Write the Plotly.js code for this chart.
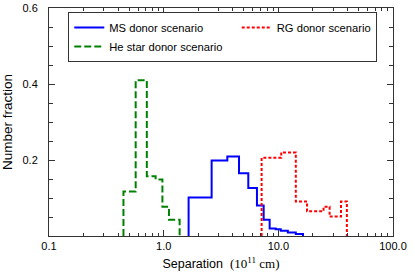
<!DOCTYPE html>
<html><head><meta charset="utf-8">
<script src="https://cdn.plot.ly/plotly-3.0.1.min.js"></script>
<style>html,body{margin:0;padding:0;background:#fff}</style>
</head><body><div id="chart" style="width:415px;height:279px"></div>
<script>
const msEdges = [1.65, 2.62, 3.59, 4.54, 5.47, 6.51, 7.45, 8.40, 9.48, 10.5, 12.1, 14.2, 16.4];
const msValues = [0.101, 0.199, 0.209, 0.165, 0.126, 0.080, 0.043, 0.020, 0.0175, 0.014, 0.0095, 0.005];
const rgEdges = [7.15, 10.6, 14.2, 17.8, 24.8, 28.0, 35.2, 39.6];
const rgValues = [0.206, 0.220, 0.091, 0.065, 0.077, 0.051, 0.091];
const heEdges = [0.446, 0.570, 0.713, 0.851, 0.975, 1.112, 1.378];
const heValues = [0.117, 0.410, 0.157, 0.149, 0.077, 0.043];
const xTickVals = [0.1, 1, 10, 100];
const xTickText = ['0.1', '1.0', '10.0', '100.0'];
const yTickVals = [0.2, 0.4, 0.6];
const yTickText = ['0.2', '0.4', '0.6'];

function steps(edges, vals) {
  const x = [edges[0]], y = [0];
  for (let i = 0; i < vals.length; i++) { x.push(edges[i]); y.push(vals[i]); }
  x.push(edges[edges.length - 1]); y.push(0);
  return {x, y};
}
const xMinor = [];
for (let d = 0.1; d < 100; d *= 10) for (let k = 2; k <= 9; k++) xMinor.push(+(d * k).toPrecision(3));
const yMinor = [];
for (let k = 1; k < 12; k++) if (k % 4 !== 0) yMinor.push(+(k * 0.05).toFixed(2));

const font = 'Liberation Sans, Arial, sans-serif';
const ms = steps(msEdges, msValues), rg = steps(rgEdges, rgValues), he = steps(heEdges, heValues);
const data = [
  {x: ms.x, y: ms.y, mode: 'lines', line: {shape: 'hv', color: '#0000ff', width: 2}, name: 'MS donor scenario'},
  {x: rg.x, y: rg.y, mode: 'lines', line: {shape: 'hv', color: '#ff0000', width: 2, dash: '3px,2px'}, name: 'RG donor scenario'},
  {x: he.x, y: he.y, mode: 'lines', line: {shape: 'hv', color: '#008000', width: 2, dash: '7px,3px'}, name: 'He star donor scenario\u00a0\u00a0\u00a0'}
];
const layout = {
  width: 415, height: 279,
  margin: {l: 49, r: 22, t: 8, b: 43},
  paper_bgcolor: '#fff', plot_bgcolor: '#fff',
  font: {family: font, size: 11, color: '#000'},
  showlegend: true,
  legend: {orientation: 'h', x: 0.056, y: 0.982, xanchor: 'left', yanchor: 'top',
    bordercolor: '#333', borderwidth: 1, bgcolor: '#fff',
    font: {family: font, size: 11.2, color: '#000'}, tracegroupgap: 0},
  xaxis: {type: 'log', range: [-1, 2], tickvals: xTickVals, ticktext: xTickText,
    ticks: 'inside', ticklen: 6, tickcolor: '#333', showline: true, linecolor: '#333', linewidth: 1,
    mirror: 'ticks', showgrid: false, zeroline: false,
    minor: {tickvals: xMinor, ticks: 'inside', ticklen: 3, tickcolor: '#333', showgrid: false},
    tickfont: {family: font, size: 11},
    title: {text: 'Separation  <span style="font-family:Liberation Serif;font-size:13px">(10<sup>11</sup> cm)</span>', font: {family: font, size: 12.5}, standoff: 8}},
  yaxis: {range: [0, 0.6], tickvals: yTickVals, ticktext: yTickText,
    ticks: 'inside', ticklen: 6, tickcolor: '#333', showline: true, linecolor: '#333', linewidth: 1,
    mirror: 'ticks', showgrid: false, zeroline: false, ticklabelstandoff: 8,
    minor: {tickvals: yMinor, ticks: 'inside', ticklen: 4, tickcolor: '#333', showgrid: false},
    tickfont: {family: font, size: 11},
    title: {text: 'Number fraction', font: {family: font, size: 13.5}, standoff: 8}}
};
Plotly.newPlot('chart', data, layout, {displayModeBar: false, staticPlot: true});
</script></body></html>
